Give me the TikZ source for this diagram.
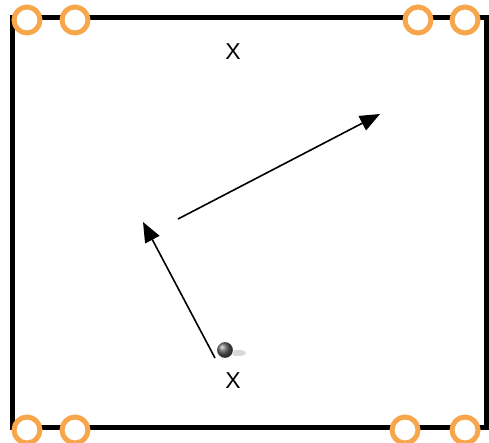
\documentclass[tikz,border=0pt]{standalone}
\usepackage{fontspec}
\setmainfont{Liberation Sans}
\usetikzlibrary{arrows.meta}
\begin{document}
\begin{tikzpicture}[x=1pt,y=-1pt,
  cone/.style={draw={rgb,255:red,248;green,166;blue,76}, line width=5pt, fill=white, circle, minimum size=26pt, inner sep=0pt},
  lbl/.style={font=\fontsize{23}{26}\selectfont},
  arr/.style={line width=1.6pt, -{Triangle[length=20pt,width=16pt]}}]
\useasboundingbox (0,0) rectangle (489,443);
\coordinate (tl) at (12,18);
\coordinate (br) at (486,427);
\draw[line width=5pt] (tl) rectangle (br);
\node[cone] (c1) at (27,20) {};
\node[cone] (c2) at (75,20) {};
\node[cone] (c3) at (418,20) {};
\node[cone] (c4) at (465,20) {};
\node[cone] (c5) at (27,430) {};
\node[cone] (c6) at (75,430) {};
\node[cone] (c7) at (405,430) {};
\node[cone] (c8) at (465,430) {};
\node[lbl] (x1) at (233,52) {X};
\node[lbl] (x2) at (233,381) {X};
\coordinate (a1s) at (178,219);
\coordinate (a1e) at (380,114);
\coordinate (a2s) at (215,358);
\coordinate (a2e) at (143,222);
\draw[arr] (a1s) -- (a1e);
\draw[arr] (a2s) -- (a2e);
\fill[gray!30] (238,353) ellipse (8pt and 3pt);
\node[circle, minimum size=17pt, inner sep=0pt, ball color=gray!70!black, draw=white, line width=1pt] (ball) at (225,350) {};
\end{tikzpicture}
\end{document}
